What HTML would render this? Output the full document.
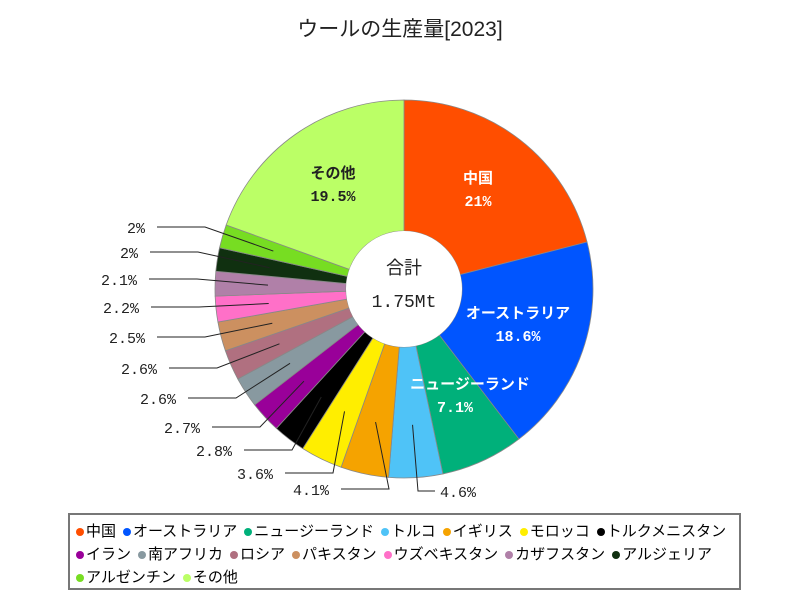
<!DOCTYPE html>
<html><head><meta charset="utf-8"><style>
body{margin:0;background:#fff;font-family:"Liberation Sans","Noto Sans CJK JP",sans-serif}
#wrap{position:relative;width:800px;height:600px}
#legend{position:absolute;left:68px;top:513px;width:673px;height:77px;border:2px solid #777;box-sizing:border-box;padding:5px 6px;font-size:15px;line-height:23px;white-space:nowrap}
.li{display:inline-block;margin-right:7px;white-space:nowrap}
.dot{display:inline-block;width:8px;height:8px;border-radius:50%;margin-right:2px}
</style></head><body>
<div id="wrap">
<svg id="svg" width="800" height="600" style="position:absolute;left:0;top:0">
<text x="400" y="36" text-anchor="middle" font-size="21" fill="#222">ウールの生産量[2023]</text>
</svg>
<div id="legend"></div>
</div>
<script>
const categories=["中国","オーストラリア","ニュージーランド","トルコ","イギリス","モロッコ","トルクメニスタン","イラン","南アフリカ","ロシア","パキスタン","ウズベキスタン","カザフスタン","アルジェリア","アルゼンチン","その他"];
const values=[21,18.6,7.1,4.6,4.1,3.6,2.8,2.7,2.6,2.6,2.5,2.2,2.1,2,2,19.5];
const valueLabels=["21%","18.6%","7.1%","4.6%","4.1%","3.6%","2.8%","2.7%","2.6%","2.6%","2.5%","2.2%","2.1%","2%","2%","19.5%"];
const colors=["#ff4e00","#0055ff","#00b07a","#4fc3f7","#f5a300","#ffee00","#000000","#990099","#8899a0","#b07080","#cc9060","#ff70c8","#b080a8","#103010","#77dd22","#bbff66"];
const cx=404,cy=289,R=189,r0=58;
const svg=document.getElementById('svg');
const NS="http://www.w3.org/2000/svg";
function mk(t,a){const e=document.createElementNS(NS,t);for(const k in a)e.setAttribute(k,a[k]);svg.appendChild(e);return e;}
const total=values.reduce((a,b)=>a+b,0);
function pt(a,rr){return [cx+rr*Math.sin(a),cy-rr*Math.cos(a)];}
let acc=0;const mids=[];
values.forEach((v,i)=>{
 const a0=acc/total*2*Math.PI;acc+=v;const a1=acc/total*2*Math.PI;
 const p0=pt(a0,R),p1=pt(a1,R),q1=pt(a1,r0),q0=pt(a0,r0);const lg=(a1-a0)>Math.PI?1:0;
 const p=mk('path',{d:`M${p0}A${R},${R} 0 ${lg} 1 ${p1}L${q1}A${r0},${r0} 0 ${lg} 0 ${q0}Z`,fill:colors[i],stroke:'#888','stroke-width':0.8});
 
 
 mids.push((a0+a1)/2);
});
mk('circle',{cx:cx,cy:cy,r:r0,fill:'#fff'});
const inside={0:[478,177,'#fff'],1:[518,312,'#fff'],2:[470,383,'#fff'],15:[333,172,'#222']};
for(const k in inside){const [x,y,c]=inside[k];
 const t1=mk('text',{x:x,y:y+6,'text-anchor':'middle','font-size':15,'font-weight':'bold',fill:c});t1.textContent=categories[k];
 
 
 const t2=mk('text',{x:x-(k==2?15:0),y:y+29,'text-anchor':'middle','font-size':15,'font-weight':'bold',fill:c,'font-family':'Liberation Mono, monospace'});t2.textContent=valueLabels[k];
 
 
}
const outs=[[3,440,491,1],[4,329,489],[5,273,473],[6,232,450],[7,200,427],[8,176,398],[9,157,368],[10,145,337],[11,139,307],[12,137,279],[13,138,252],[14,145,227]];
outs.forEach(o=>{const [i,xe,y,right]=o;const a=mids[i];const an=pt(a,0.72*R);
 let d;
 if(right){d=`M${an}L${418},${y}L${435},${y}`;}
 else d=`M${xe+12},${y}L${xe+60},${y}L${an}`;
 mk('path',{d:d,fill:'none',stroke:'#222','stroke-width':1});
 const t=mk('text',{x:xe,y:y+6,'text-anchor':right?'start':'end','font-size':15,fill:'#222','font-family':'Liberation Mono, monospace'});t.textContent=valueLabels[i];
 
 
});
const c1=mk('text',{x:cx,y:cy-15,'text-anchor':'middle','font-size':18,fill:'#222'});c1.textContent='合計';


const c2=mk('text',{x:cx,y:cy+18,'text-anchor':'middle','font-size':18,fill:'#222','font-family':'Liberation Mono, monospace'});c2.textContent='1.75Mt';


const lg=document.getElementById('legend');
const breaks=[6,13];
categories.forEach((c,i)=>{const s=document.createElement('span');s.className='li';
 
 
 s.innerHTML=`<span class="dot" style="background:${colors[i]}"></span>${c}`;lg.appendChild(s);
 if(breaks.includes(i))lg.appendChild(document.createElement('br'));});
</script>
</body></html>
